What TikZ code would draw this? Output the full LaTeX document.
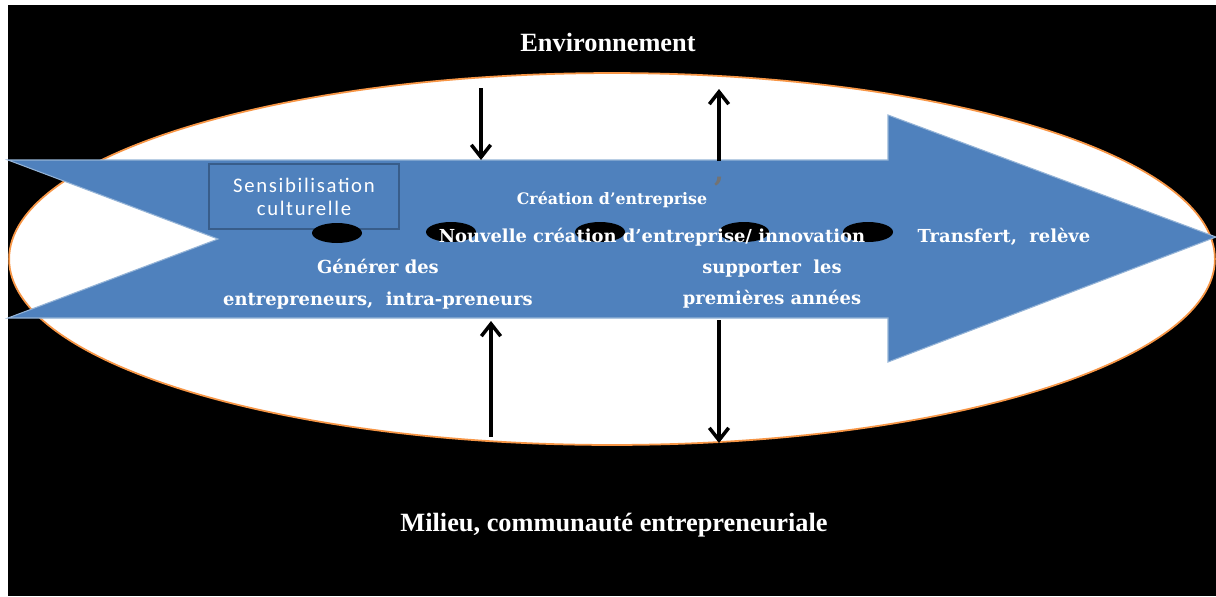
\documentclass[tikz,border=0pt]{standalone}
\usepackage{fontspec}
\setmainfont{Liberation Serif}
\newfontfamily\slabfont{DejaVu Serif}
\newfontfamily\calfont[LetterSpace=8]{Carlito}
\usetikzlibrary{arrows.meta,shapes.geometric}
\definecolor{arrowblue}{HTML}{4F81BD}
\definecolor{boxline}{HTML}{385D8A}
\definecolor{rimorange}{HTML}{F79646}
\begin{document}
\begin{tikzpicture}[>={Straight Barb[length=7pt,width=11pt]},x=0.02cm,y=-0.02cm,
	title/.style={text=white,font=\fontsize{15}{18}\selectfont\bfseries},
	stage/.style={text=white,align=center,font=\slabfont\bfseries\fontsize{10.2}{18}\selectfont},
	hole/.style={ellipse,fill=black,minimum width=1cm,minimum height=0.4cm,inner sep=0pt},
	flow/.style={->,line width=2pt}]
	\useasboundingbox (0,0) rectangle (1216,596);
	\fill[black] (8,5) rectangle (1216,596);
	\draw[rimorange,fill=white,line width=1pt] (612,259) ellipse [x radius=12.06cm,y radius=3.72cm];
	% big arrow
	\draw[arrowblue!60!white,fill=arrowblue,line width=0.6pt] (8,160) -- (888,160) -- (888,115) -- (1216,237) -- (888,362) -- (888,318) -- (8,318) -- (218,239) -- cycle;
	\node[draw=boxline,fill=arrowblue,line width=0.8pt,minimum width=3.8cm,minimum height=1.3cm,text=white,align=center,font=\calfont\fontsize{11.8}{13}\selectfont] (sensib) at (304,196.5) {Sensibilisation\\culturelle};
	\node[hole] (dot1) at (337,233) {};
	\node[hole] (dot2) at (451,232) {};
	\node[hole] (dot3) at (600,232) {};
	\node[hole] (dot4) at (744,232) {};
	\node[hole] (dot5) at (868,232) {};
	\node[stage,font=\slabfont\bfseries\fontsize{9}{9}\selectfont] (creation) at (612,200) {Création d’entreprise};
	\node[anchor=base,text=gray!90!black,font=\slabfont\bfseries\fontsize{16}{16}\selectfont] (quote) at (719,181) {,};
	\node[stage] (nouvelle) at (652,237) {Nouvelle création d’entreprise/ innovation};
	\node[stage] (generer) at (378,284) {Générer des\\entrepreneurs,\ \ intra-preneurs};
	\node[stage] (supporter) at (772,284) {supporter\ \ les\\premières années};
	\node[stage] (transfert) at (1004,237) {Transfert,\ \ relève};
	\node[title] (env) at (608,42) {Environnement};
	\node[title] (milieu) at (614,525) {Milieu, communauté entrepreneuriale};
	% influences
	\coordinate (envA) at (481,88);
	\coordinate (envB) at (719,89);
	\coordinate (topA) at (481,160);
	\coordinate (topB) at (719,161);
	\coordinate (botA) at (491,321);
	\coordinate (botB) at (719,320);
	\coordinate (milA) at (491,437);
	\coordinate (milB) at (719,443);
	\draw[flow] (envA) -- (topA);
	\draw[flow] (topB) -- (envB);
	\draw[flow] (milA) -- (botA);
	\draw[flow] (botB) -- (milB);
\end{tikzpicture}
\end{document}
